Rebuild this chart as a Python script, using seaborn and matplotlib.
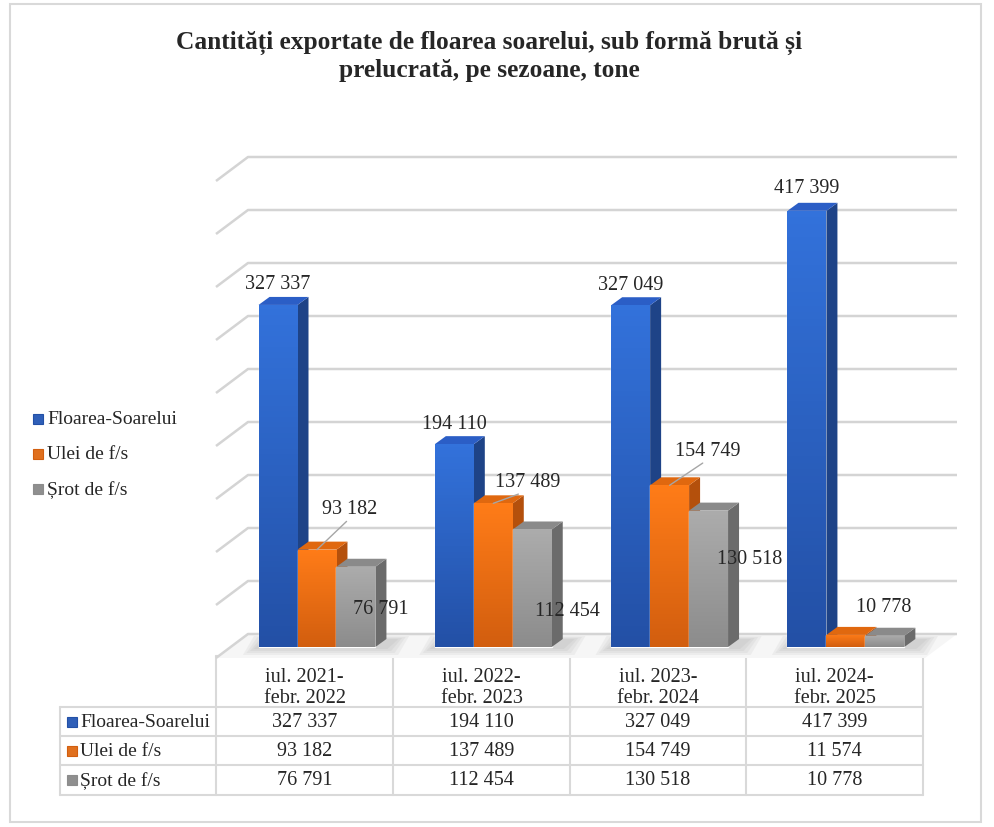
import numpy as np
import pandas as pd
import seaborn as sns
import matplotlib.pyplot as plt
from matplotlib.patches import Polygon, Rectangle
from matplotlib.colors import LinearSegmentedColormap

# Data
seasons = ['iul. 2021-\nfebr. 2022', 'iul. 2022-\nfebr. 2023',
           'iul. 2023-\nfebr. 2024', 'iul. 2024-\nfebr. 2025']
products = ['Floarea-Soarelui', 'Ulei de f/s', 'Șrot de f/s']
floarea = [327337, 194110, 327049, 417399]
ulei = [93182, 137489, 154749, 11574]
srot = [76791, 112454, 130518, 10778]
title = 'Cantități exportate de floarea soarelui, sub formă brută și\nprelucrată, pe sezoane, tone'

df = pd.DataFrame({
    'sezon': seasons * 3,
    'produs': [p for p in products for _ in seasons],
    'tone': floarea + ulei + srot,
})

sns.set_style('white')
plt.rcParams['font.family'] = ['Liberation Serif', 'DejaVu Serif']

# colours: front top, front bottom, side, top face
front_top = ['#3372db', '#ff7c18', '#acacac']
front_bot = ['#2350a6', '#d25e0f', '#8c8c8c']
side_cols = ['#1e4387', '#b4500c', '#6b6b6b']
top_cols = ['#2b5ec6', '#e0680f', '#8a8a8a']
key_cols = ['#2f5fb8', '#e0701e', '#8f8f8f']
grid_c = '#d4d4d4'
line_c = '#d9d9d9'

W, H = 994, 828
fig = plt.figure(figsize=(W / 100, H / 100), dpi=100)


def box(l, t, r, b):
    return [l / W, 1 - b / H, (r - l) / W, (b - t) / H]


# layout axes in pixel units (title, legend, table, frame)
lay = fig.add_axes([0, 0, 1, 1], zorder=0)
lay.set_xlim(0, W)
lay.set_ylim(H, 0)
lay.axis('off')
lay.add_patch(Rectangle((10, 5), 971, 818, fc='none', ec=line_c, lw=1.5))
lay.text(489, 56, title, ha='center', va='center', fontsize=18.3,
         fontweight='bold', linespacing=1.22)

# back wall with gridlines and side wall
back = fig.add_axes(box(248, 158, 957, 635), zorder=1)
back.set_xlim(0, 1)
back.set_ylim(0, 450000)
back.axis('off')
dxw = -32 / 709
dyw = -24 * 450000 / 477
back.add_patch(Polygon([(dxw, dyw), (0, 0), (1, 0), (1 + dxw, dyw)],
                       fc='#f6f6f6', ec='none', clip_on=False))
for v in np.arange(0, 450001, 50000):
    back.plot([dxw, 0, 1], [v + dyw, v, v], color=grid_c, lw=1.8,
              clip_on=False, solid_capstyle='butt')

# bars
ax = fig.add_axes(box(211.2, 177.75, 951.7, 648), zorder=2)
sns.barplot(data=df, x='sezon', y='tone', hue='produs', palette=front_bot,
            width=0.663, gap=0, saturation=1, errorbar=None, legend=False, ax=ax)
ax.set_xlim(-0.6, 3.6)
ax.set_ylim(0, 450000)
ax.axis('off')
ax.patch.set_alpha(0)

xpp = 4.2 / 740.5
ypp = 450000 / 470.25
dx, dy = 11 * xpp, 8 * ypp

# soft floor shadow under each group
for i in range(len(seasons)):
    for s in range(4):
        ax.add_patch(Polygon([(i - 0.36 - s * 0.02, -2 * ypp - s * 2 * ypp),
                              (i + 0.40 + s * 0.02, -2 * ypp - s * 2 * ypp),
                              (i + 0.40 + dx + s * 0.02, dy + s * ypp),
                              (i - 0.36 + dx - s * 0.02, dy + s * ypp)],
                             fc='#707070', ec='none', alpha=0.07, zorder=1.5,
                             clip_on=False))

grad = np.linspace(0, 1, 64).reshape(-1, 1)
for k, cont in enumerate(ax.containers):
    cmap = LinearSegmentedColormap.from_list('g%d' % k, [front_bot[k], front_top[k]])
    z = 2 + k
    for bar in cont:
        x0, w, h = bar.get_x(), bar.get_width(), bar.get_height()
        x1 = x0 + w
        bar.set_zorder(z)
        bar.set_clip_on(False)
        im = ax.imshow(grad, cmap=cmap, extent=[x0, x1, 0, h], origin='lower',
                       aspect='auto', zorder=z + 0.01)
        im.set_clip_path(bar)
        ax.add_patch(Polygon([(x1, 0), (x1 + dx, dy), (x1 + dx, h + dy), (x1, h)],
                             fc=side_cols[k], ec='none', zorder=z, clip_on=False))
        ax.add_patch(Polygon([(x0, h), (x1, h), (x1 + dx, h + dy), (x0 + dx, h + dy)],
                             fc=top_cols[k], ec='none', zorder=z, clip_on=False))
ax.set_xlim(-0.6, 3.6)
ax.set_ylim(0, 450000)

# data labels (offsets in pixels from bar top centre, None = hidden)
label_offsets = [
    [(0, 21), (0, 21), (0, 21), (0, 23)],
    [(33, 41), (34, 22), (38, 35), None],
    [(25, -42), (35, -81), (41, -48), (-1, 29)],
]
leader = [False, True, False]


def fmt(v):
    return f'{int(round(v)):,}'.replace(',', ' ')


for k, cont in enumerate(ax.containers):
    for bar, off in zip(cont, label_offsets[k]):
        if off is None:
            continue
        cx = bar.get_x() + bar.get_width() / 2
        h = bar.get_height()
        kw = {}
        if leader[k]:
            kw['arrowprops'] = dict(arrowstyle='-', color='#a6a6a6', lw=1,
                                    shrinkA=0, shrinkB=0, relpos=(0.5, 0))
        ax.annotate(fmt(h), xy=(cx, h), xytext=off, textcoords='offset pixels',
                    ha='center', va='center', fontsize=14.5, zorder=10,
                    annotation_clip=False, **kw)

# legend
for k, name in enumerate(products):
    y = 420 + 35 * k
    lay.add_patch(Rectangle((33, y - 5), 10, 10, fc=key_cols[k], ec=front_bot[k], lw=0.8))
    lay.text(47, y, name, va='center', fontsize=14)

# data table
cols_x = [216, 393, 570, 746, 923]
rows_y = [657, 708, 737, 766, 796]
lay.plot([216, 923], [rows_y[0]] * 2, color=line_c, lw=1.5)
for y in rows_y[1:]:
    lay.plot([60, 923], [y, y], color=line_c, lw=1.5)
lay.plot([60, 60], [708, 796], color=line_c, lw=1.5)
for x in cols_x:
    lay.plot([x, x], [657, 796], color=line_c, lw=1.5)

series = [floarea, ulei, srot]
for j, s in enumerate(seasons):
    cx = (cols_x[j] + cols_x[j + 1]) / 2
    lay.text(cx, 688, s, ha='center', va='center', fontsize=14.5, linespacing=1.1)
    for k in range(3):
        cy = (rows_y[k + 1] + rows_y[k + 2]) / 2
        lay.text(cx, cy, fmt(series[k][j]), ha='center', va='center', fontsize=14.5)
for k, name in enumerate(products):
    cy = (rows_y[k + 1] + rows_y[k + 2]) / 2
    lay.add_patch(Rectangle((67, cy - 5), 10, 10, fc=key_cols[k], ec=front_bot[k], lw=0.8))
    lay.text(80, cy, name, va='center', fontsize=14)

fig.savefig('out.png', dpi=100)
